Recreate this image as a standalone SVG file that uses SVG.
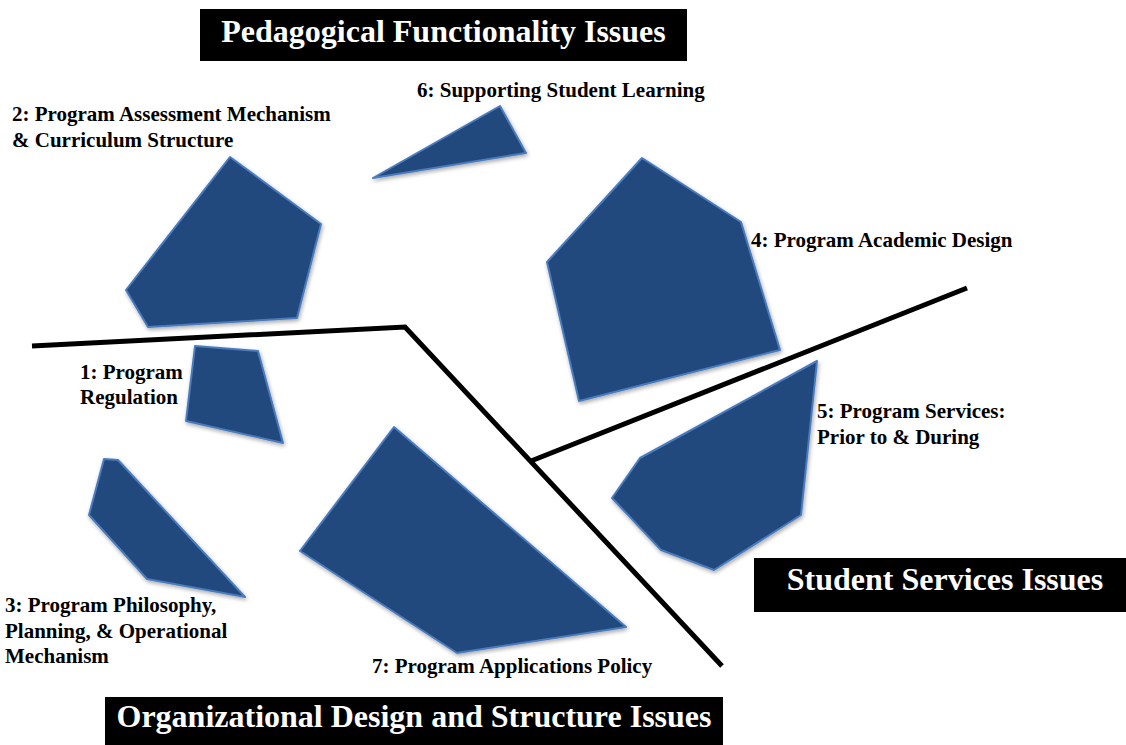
<svg xmlns="http://www.w3.org/2000/svg" width="1126" height="745" viewBox="0 0 1126 745">
<defs>
<filter id="soft" x="-10%" y="-10%" width="125%" height="125%">
<feGaussianBlur in="SourceAlpha" stdDeviation="2"/>
<feOffset dx="1" dy="2" result="b"/>
<feComponentTransfer><feFuncA type="linear" slope="0.35"/></feComponentTransfer>
<feMerge><feMergeNode/><feMergeNode in="SourceGraphic"/></feMerge>
</filter>
<style>
.shape{fill:#234a7d;stroke:#4a7cbf;stroke-width:2;stroke-linejoin:round;filter:url(#soft)}
.lbl{font-family:"Liberation Serif","Times New Roman",serif;font-weight:bold;font-size:21px;fill:#000}
.ttl{font-family:"Liberation Serif","Times New Roman",serif;font-weight:bold;font-size:32px;fill:#fff}
.box{fill:#000}
.div{fill:none;stroke:#000;stroke-width:5;stroke-linecap:butt;stroke-linejoin:miter}
</style>
</defs>
<rect width="1126" height="745" fill="#fff"/>

<g id="title-pedagogical">
<rect class="box" x="200" y="9" width="487" height="52"/>
<text class="ttl" x="443.5" y="42" text-anchor="middle">Pedagogical Functionality Issues</text>
</g>
<g id="title-student-services">
<rect class="box" x="754" y="558" width="372" height="54"/>
<text class="ttl" x="945" y="590" text-anchor="middle">Student Services Issues</text>
</g>
<g id="title-organizational">
<rect class="box" x="105" y="697" width="618" height="48"/>
<text class="ttl" x="414" y="727" text-anchor="middle">Organizational Design and Structure Issues</text>
</g>

<g id="connectors">
<polyline class="div" points="32,346 405,327 722,666"/>
<line class="div" x1="531" y1="461" x2="967" y2="288" stroke-width="4.5"/>
</g>

<g id="node-1">
<polygon class="shape" points="195,346 258,351 283,443 186,421"/>
<text class="lbl" x="80" y="379">1: Program</text>
<text class="lbl" x="80" y="404">Regulation</text>
</g>
<g id="node-2">
<polygon class="shape" points="230,157 321,224 297,318 148,327 126,290"/>
<text class="lbl" x="12" y="121">2: Program Assessment Mechanism</text>
<text class="lbl" x="12" y="147">&amp; Curriculum Structure</text>
</g>
<g id="node-3">
<polygon class="shape" points="104,459 118,460 245,597 147,579 89,515"/>
<text class="lbl" x="5" y="612">3: Program Philosophy,</text>
<text class="lbl" x="5" y="638">Planning, &amp; Operational</text>
<text class="lbl" x="5" y="663">Mechanism</text>
</g>
<g id="node-4">
<polygon class="shape" points="642,158 741,222 780,350 579,401 547,262"/>
<text class="lbl" x="751" y="247">4: Program Academic Design</text>
</g>
<g id="node-5">
<polygon class="shape" points="817,361 801,515 714,570 661,550 612,498 640,458"/>
<text class="lbl" x="817" y="418">5: Program Services:</text>
<text class="lbl" x="817" y="444">Prior to &amp; During</text>
</g>
<g id="node-6">
<polygon class="shape" points="373,178 500,106 526,153"/>
<text class="lbl" x="417" y="97">6: Supporting Student Learning</text>
</g>
<g id="node-7">
<polygon class="shape" points="394,427 626,627 457,653 300,551"/>
<text class="lbl" x="372" y="673">7: Program Applications Policy</text>
</g>
</svg>
